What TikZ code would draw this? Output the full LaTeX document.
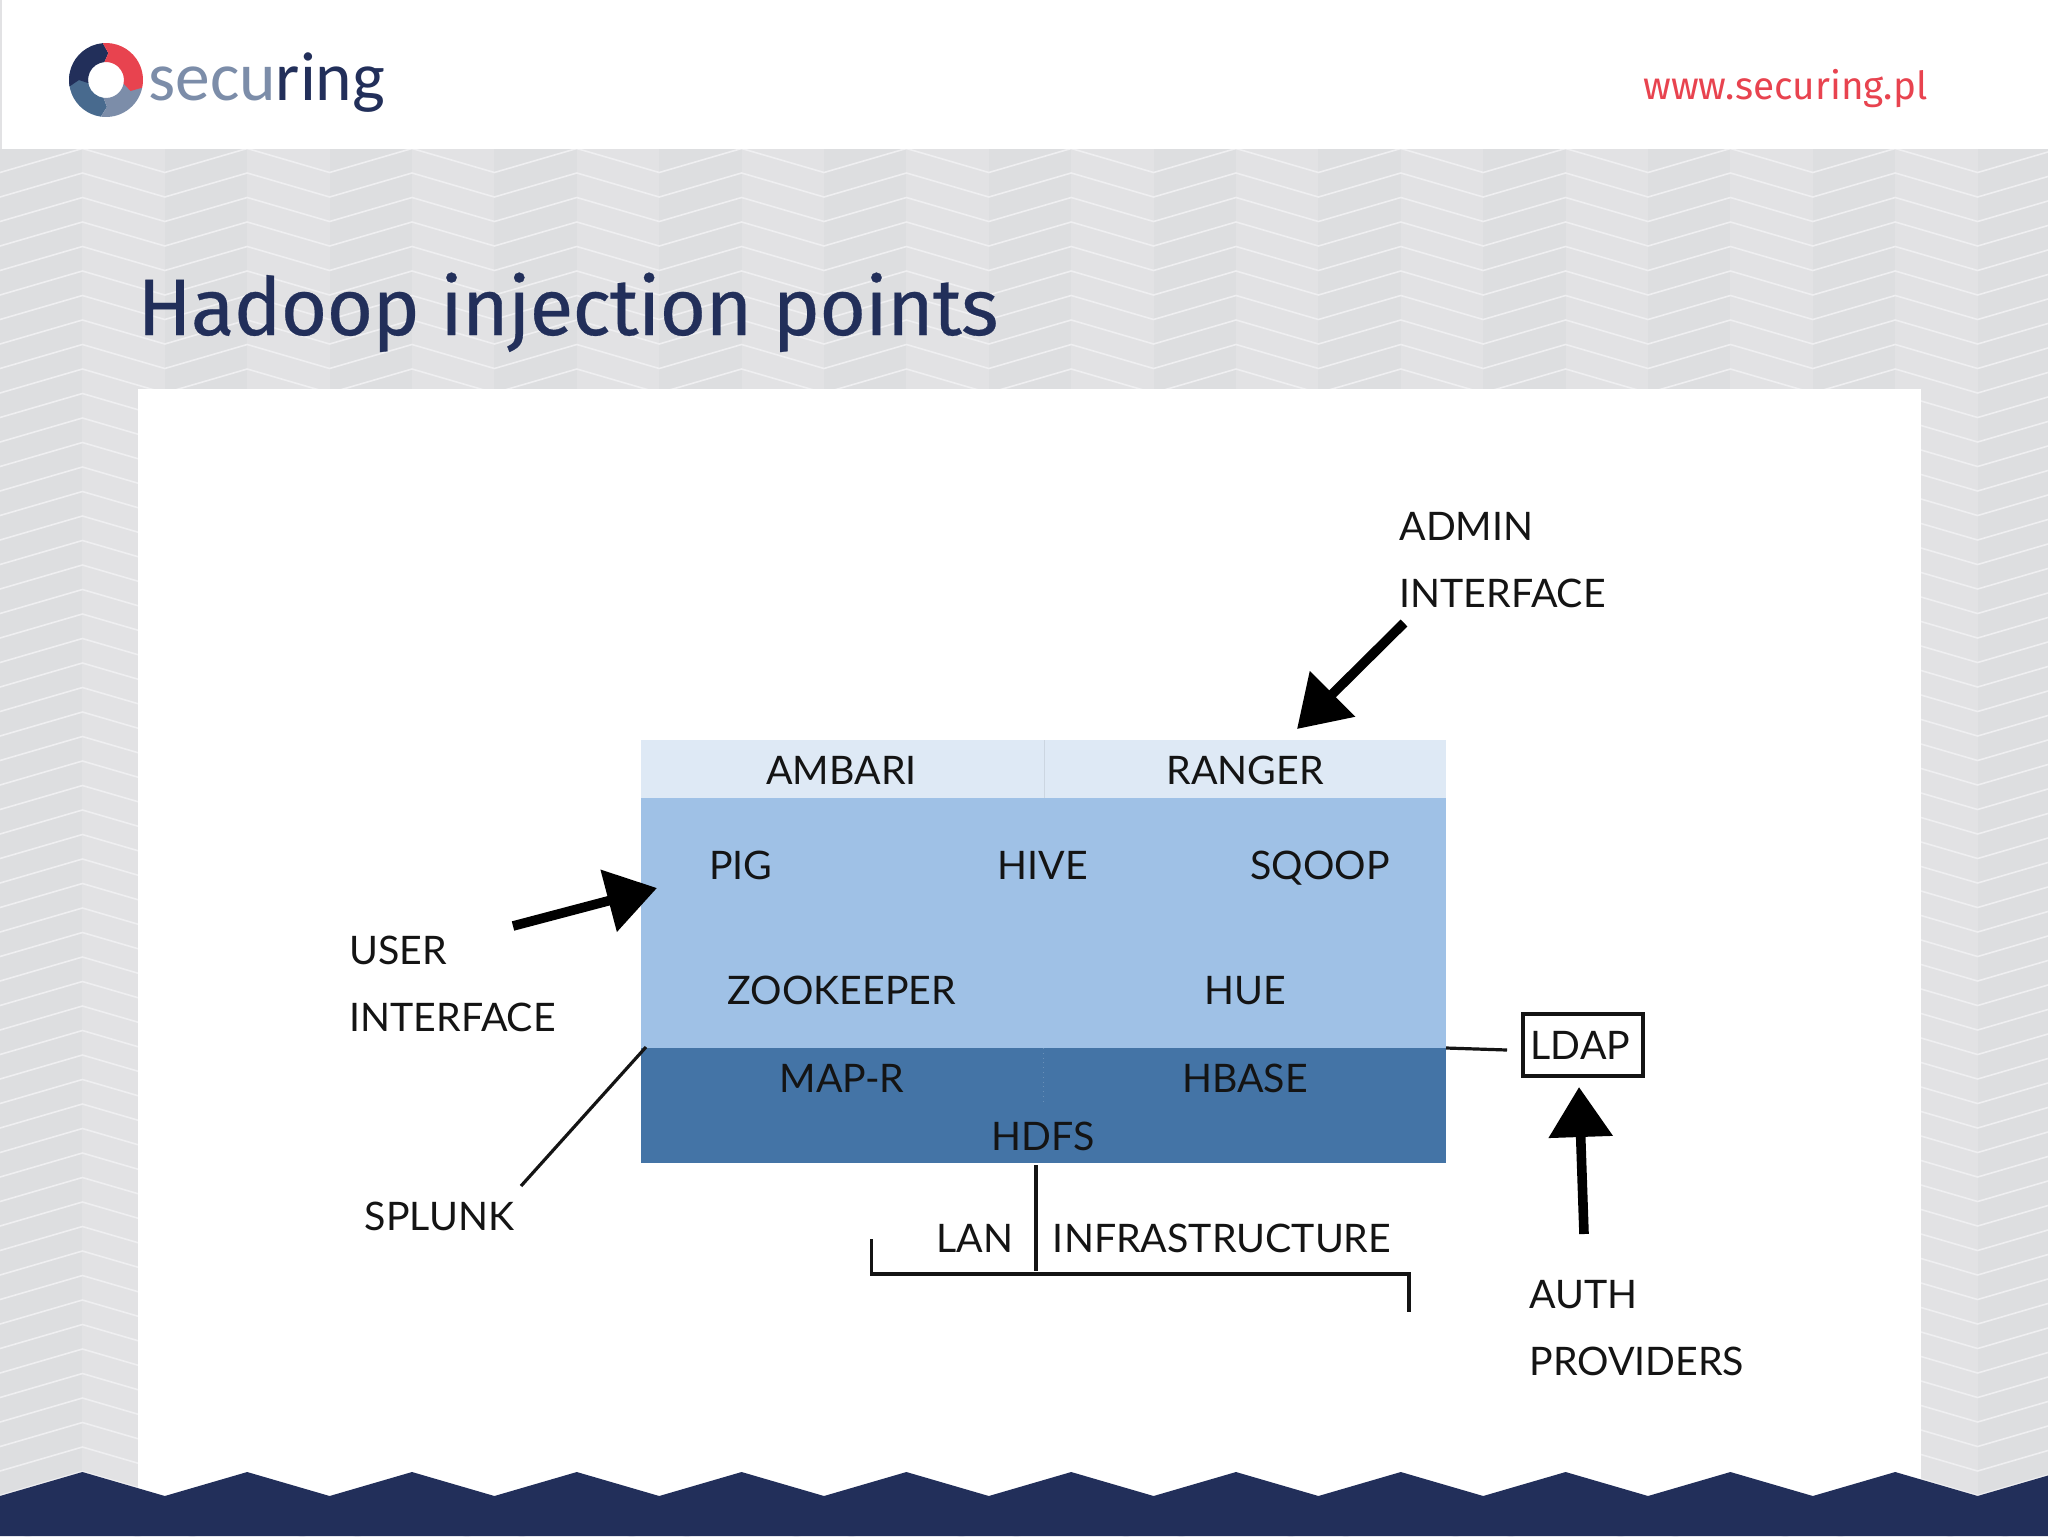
\documentclass[tikz,border=0pt]{standalone}
\usepackage{fontspec}
\usetikzlibrary{arrows.meta,calc}
\setmainfont{Lato}
\newfontfamily\titlefont{Fira Sans}
\newfontfamily\logofont{Carlito}
\definecolor{navy}{HTML}{222F5A}
\definecolor{redish}{HTML}{E8434F}
\definecolor{slateA}{HTML}{7C8DA9}
\definecolor{slateB}{HTML}{486A8E}
\definecolor{bgA}{HTML}{DDDEE0}
\definecolor{bgB}{HTML}{E2E2E4}
\definecolor{chev}{HTML}{EFEFF1}
\definecolor{rowA}{HTML}{DEE9F5}
\definecolor{rowB}{HTML}{9FC1E6}
\definecolor{rowC}{HTML}{4474A6}
\definecolor{ink}{HTML}{141414}
\tikzset{
  lbl/.style={font=\fontsize{19.65}{24}\selectfont,text=ink,inner sep=0pt,anchor=base},
  lblw/.style={lbl,anchor=base west},
  cell/.style={inner sep=0pt,outer sep=0pt,anchor=north west,draw=none},
  thinline/.style={draw=ink,line width=1.6pt},
  bigarrow/.style={draw=black,line width=4.8pt,-{Triangle[length=25pt,width=31pt]}},
}
\begin{document}
\begin{tikzpicture}[x=0.5pt,y=-0.5pt]
\useasboundingbox (0,0) rectangle (2048,1536);
% background
\fill[bgB] (0,149) rectangle (2048,1536);
\foreach \j in {0,...,12}{
  \fill[bgA] ({164.8*\j},149) rectangle ({164.8*\j+82.4},1536);
}
\begin{scope}
\clip (0,149) rectangle (2048,1536);
\foreach \k in {-1,...,56}{
  \draw[chev,line width=0.8pt] ({-82.4},{173+24.5*\k-24.5})
    \foreach \j in {0,...,13}{ -- ({164.8*\j},{173+24.5*\k-0.5}) -- ({164.8*\j+82.4},{173+24.5*\k-24.5}) };
}
\end{scope}
\fill[white] (0,0) rectangle (2048,149);
\fill[bgB] (0,0) rectangle (2,149);
% panel
\fill[white] (138,389) rectangle (1921,1510);
% bottom band
\fill[navy] (0,1496)
  \foreach \j in {0,...,12}{ -- ({82.4+164.8*\j},1472) -- ({164.8+164.8*\j},1496) }
  -- (2048,1536) -- (0,1536) -- cycle;
% logo
\node[inner sep=0pt,anchor=base west,font=\logofont\fontsize{34.7}{42}\selectfont] (logotext) at (148,100)
  {\textcolor{slateA}{secu}\textcolor{navy}{ring}};
\begin{scope}[shift={(106,80)},y=0.5pt]
 \fill[slateB] (-98:37) arc[start angle=-98,end angle=-190,radius=37] -- (-180:27) -- (-190:18) arc[start angle=-190,end angle=-98,radius=18] -- (-88:27) -- cycle;
 \fill[slateA] (-12:37) arc[start angle=-12,end angle=-98,radius=37] -- (-88:27) -- (-98:18) arc[start angle=-98,end angle=-12,radius=18] -- (-2:27) -- cycle;
 \fill[navy] (190:37) arc[start angle=190,end angle=95,radius=37] -- (85:27) -- (95:18) arc[start angle=95,end angle=190,radius=18] -- (180:27) -- cycle;
 \fill[redish] (95:37) arc[start angle=95,end angle=-12,radius=37] -- (-24:27) -- (-12:18) arc[start angle=-12,end angle=95,radius=18] -- (85:27) -- cycle;
\end{scope}
% top right
\node[inner sep=0pt,anchor=base west,text=redish,font=\titlefont\fontsize{19.35}{23}\selectfont] (url) at (1643,99) {www.securing.pl};
% title
\node[inner sep=0pt,anchor=base west,text=navy,font=\titlefont\fontsize{40}{48}\selectfont\addfontfeature{LetterSpace=-1.05,FakeBold=0.35}] (title) at (137,335) {Hadoop injection points};
% table cells
\node[cell,fill=rowA,minimum width=403.5pt*0.5,minimum height=58pt*0.5] (ambariCell) at (640.5,740) {};
\node[cell,fill=rowA,minimum width=402.5pt*0.5,minimum height=58pt*0.5] (rangerCell) at (1043.5,740) {};
\node[cell,fill=rowB,minimum width=805.5pt*0.5,minimum height=250pt*0.5] (midCell) at (640.5,798) {};
\node[cell,fill=rowC,minimum width=805.5pt*0.5,minimum height=115pt*0.5] (lowCell) at (640.5,1048) {};
\draw[line width=0.5pt,draw=rowA!92!black] (ambariCell.north east) -- (ambariCell.south east);
\draw[line width=0.4pt,draw=rowC!80!white,dotted] (lowCell.north) -- ++(0,57);
% labels
\node[lbl] (ambari) at (841.5,784) {AMBARI};
\node[lbl] (ranger) at (1245,784) {RANGER};
\node[lbl] (pig) at (741,879) {PIG};
\node[lbl] (hive) at (1043,879) {HIVE};
\node[lbl] (sqoop) at (1320,879) {SQOOP};
\node[lbl] (zookeeper) at (842,1004) {ZOOKEEPER};
\node[lbl] (hue) at (1245,1004) {HUE};
\node[lbl] (mapr) at (842,1092) {MAP-R};
\node[lbl] (hbase) at (1245,1092) {HBASE};
\node[lbl] (hdfs) at (1043,1150) {HDFS};
\node[lbl] (lan) at (975,1252) {LAN};
\node[lbl] (infra) at (1222,1252) {INFRASTRUCTURE};
\node[lblw] (admin) at (1399,540.5) {ADMIN};
\node[lblw] (adminb) at (1399,607.5) {INTERFACE};
\node[lblw] (user) at (349,964) {USER};
\node[lblw] (userb) at (349,1031) {INTERFACE};
\node[lblw] (splunk) at (364.5,1230) {SPLUNK};
\node[lblw] (auth) at (1529,1308) {AUTH};
\node[lblw] (providers) at (1529,1375) {PROVIDERS};
\node[draw=ink,line width=1.6pt,minimum width=60pt,minimum height=31pt,inner sep=0pt,font=\fontsize{19.65}{24}\selectfont,text=ink] (ldap) at (1583,1045) {LDAP\kern2.6pt};
% connector ends
\coordinate (adminTail) at (1404,623);
\coordinate (adminTip) at (1297,729);
\coordinate (userTail) at (513,926);
\coordinate (userTip) at (657,888);
\coordinate (authTail) at (1584,1234);
\coordinate (authTip) at (1579,1087);
\coordinate (splunkA) at (521,1186);
\coordinate (splunkB) at (646,1047);
\coordinate (ldapA) at (1446,1048);
\coordinate (ldapB) at (1507,1050);
\coordinate (lanTop) at (1036,1165);
\coordinate (lanBot) at (1036,1271);
\coordinate (brA) at (871.5,1239);
\coordinate (brB) at (871.5,1274);
\coordinate (brC) at (1409,1274);
\coordinate (brD) at (1409,1312);
\draw[bigarrow] (adminTail) -- (adminTip);
\draw[bigarrow] (userTail) -- (userTip);
\draw[bigarrow] (authTail) -- (authTip);
\draw[thinline] (splunkA) -- (splunkB);
\draw[thinline] (ldapA) -- (ldapB);
\draw[thinline] (lanTop) -- (lanBot);
\draw[thinline,line width=1.8pt] (brA) -- (brB) -- (brC) -- (brD);
\end{tikzpicture}
\end{document}
